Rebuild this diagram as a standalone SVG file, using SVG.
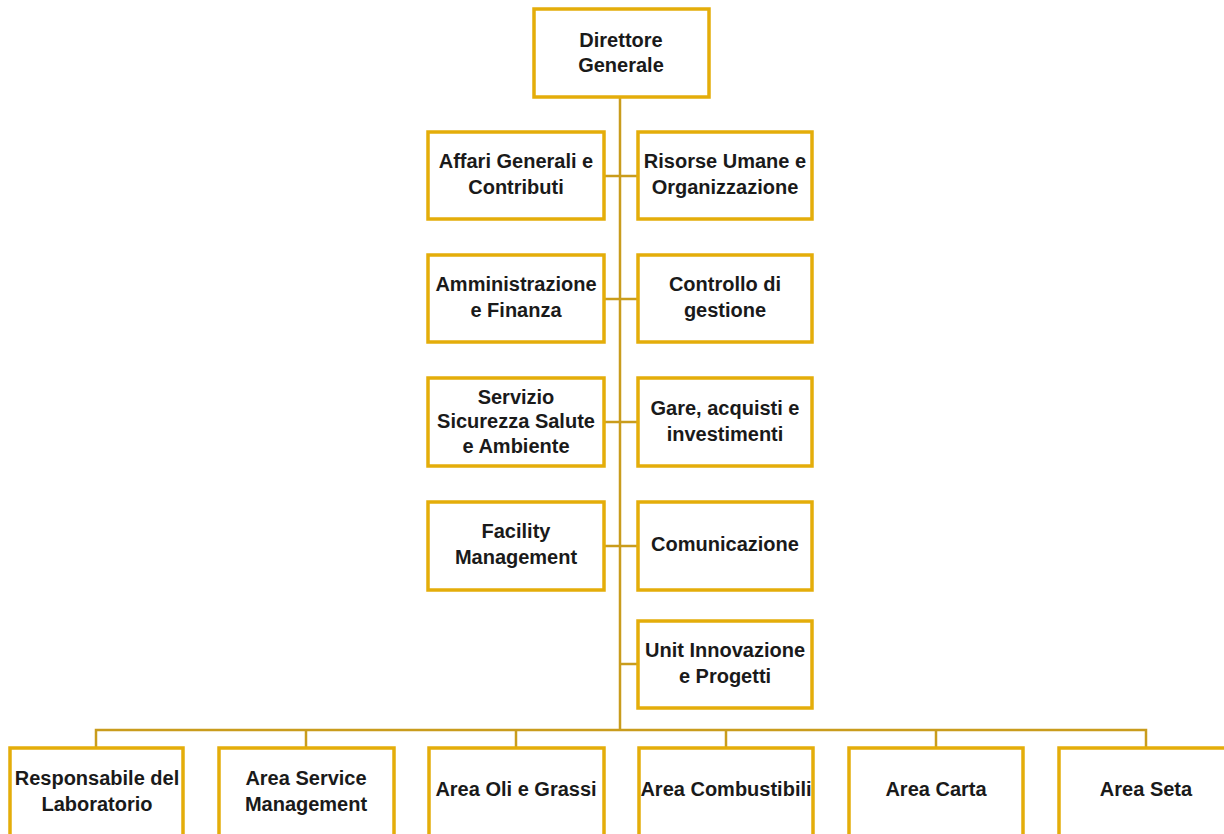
<svg xmlns="http://www.w3.org/2000/svg" width="1224" height="834" viewBox="0 0 1224 834">
<style>
.box{fill:#fff;stroke:#E4AD0A;stroke-width:3.5}
.t{font-family:"Liberation Sans",Arial,sans-serif;font-weight:bold;font-size:20px;fill:#1a1a1a;text-anchor:middle}
.c{fill:none;stroke:#C99C1C;stroke-width:2.5}
</style>
<rect width="1224" height="834" fill="#fff"/>
<g id="connectors">
<path class="c" d="M620 97V730"/>
<path class="c" d="M604 176H638M604 299H638M604 422H638M604 546H638M620 664H638"/>
<path class="c" d="M96 748V730H1146V748M306 730V748M516 730V748M726 730V748M936 730V748"/>
</g>
<g id="n-dg"><rect class="box" x="534" y="9" width="175" height="88"/><text class="t" x="621" y="47">Direttore</text><text class="t" x="621" y="72">Generale</text></g>
<g id="n-agc"><rect class="box" x="428" y="132" width="176" height="87"/><text class="t" x="516" y="168">Affari Generali e</text><text class="t" x="516" y="194">Contributi</text></g>
<g id="n-ruo"><rect class="box" x="638" y="132" width="174" height="87"/><text class="t" x="725" y="168">Risorse Umane e</text><text class="t" x="725" y="194">Organizzazione</text></g>
<g id="n-af"><rect class="box" x="428" y="255" width="176" height="87"/><text class="t" x="516" y="291">Amministrazione</text><text class="t" x="516" y="317">e Finanza</text></g>
<g id="n-cg"><rect class="box" x="638" y="255" width="174" height="87"/><text class="t" x="725" y="291">Controllo di</text><text class="t" x="725" y="317">gestione</text></g>
<g id="n-ssa"><rect class="box" x="428" y="378" width="176" height="88"/><text class="t" x="516" y="404">Servizio</text><text class="t" x="516" y="428">Sicurezza Salute</text><text class="t" x="516" y="453">e Ambiente</text></g>
<g id="n-gai"><rect class="box" x="638" y="378" width="174" height="88"/><text class="t" x="725" y="415">Gare, acquisti e</text><text class="t" x="725" y="441">investimenti</text></g>
<g id="n-fm"><rect class="box" x="428" y="502" width="176" height="88"/><text class="t" x="516" y="538">Facility</text><text class="t" x="516" y="564">Management</text></g>
<g id="n-com"><rect class="box" x="638" y="502" width="174" height="88"/><text class="t" x="725" y="551">Comunicazione</text></g>
<g id="n-uip"><rect class="box" x="638" y="621" width="174" height="87"/><text class="t" x="725" y="657">Unit Innovazione</text><text class="t" x="725" y="683">e Progetti</text></g>
<g id="n-lab"><rect class="box" x="10" y="748" width="173" height="100"/><text class="t" x="97" y="785">Responsabile del</text><text class="t" x="97" y="811">Laboratorio</text></g>
<g id="n-asm"><rect class="box" x="219" y="748" width="175" height="100"/><text class="t" x="306" y="785">Area Service</text><text class="t" x="306" y="811">Management</text></g>
<g id="n-aog"><rect class="box" x="429" y="748" width="175" height="100"/><text class="t" x="516" y="796">Area Oli  e Grassi</text></g>
<g id="n-ac"><rect class="box" x="639" y="748" width="174" height="100"/><text class="t" x="726" y="796">Area Combustibili</text></g>
<g id="n-acarta"><rect class="box" x="849" y="748" width="174" height="100"/><text class="t" x="936" y="796">Area Carta</text></g>
<g id="n-aseta"><rect class="box" x="1059" y="748" width="174" height="100"/><text class="t" x="1146" y="796">Area Seta</text></g>
</svg>
